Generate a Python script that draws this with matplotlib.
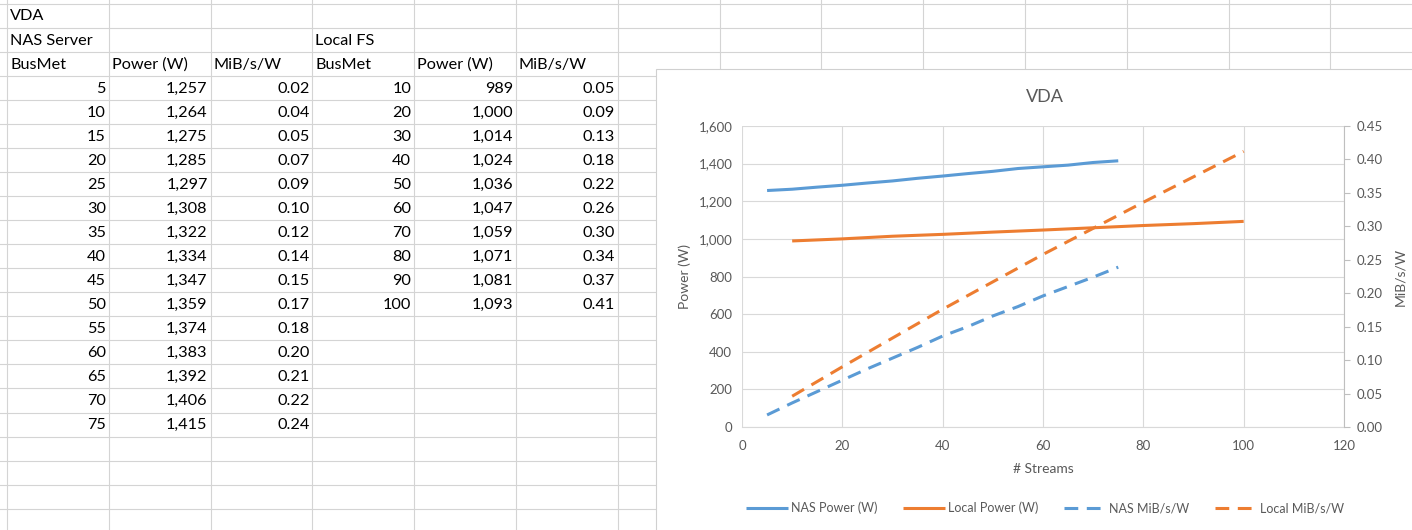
import matplotlib.pyplot as plt
from matplotlib.patches import Rectangle
from matplotlib.ticker import FuncFormatter, MultipleLocator

# table / chart data (efficiency, table shows them rounded)
nas_streams = [5, 10, 15, 20, 25, 30, 35, 40, 45, 50, 55, 60, 65, 70, 75]
nas_power = [1257, 1264, 1275, 1285, 1297, 1308, 1322, 1334, 1347, 1359, 1374, 1383, 1392, 1406, 1415]
nas_eff = [0.018, 0.036, 0.053, 0.070, 0.087, 0.103, 0.119, 0.136, 0.150, 0.166,
           0.180, 0.196, 0.210, 0.224, 0.239]
local_streams = [10, 20, 30, 40, 50, 60, 70, 80, 90, 100]
local_power = [989, 1000, 1014, 1024, 1036, 1047, 1059, 1071, 1081, 1093]
local_eff = [0.046, 0.090, 0.133, 0.176, 0.217, 0.258, 0.297, 0.336, 0.374, 0.412]

headers = ["BusMet", "Power (W)", "MiB/s/W"]

W, H = 1412, 530
BLUE = "#5B9BD5"
ORANGE = "#ED7D31"
GREY = "#595959"
plt.rcParams["font.family"] = ["Lato", "DejaVu Sans"]

fig = plt.figure(figsize=(W / 100, H / 100), dpi=100)
bg = fig.add_axes([0, 0, 1, 1])
bg.set_xlim(0, W)
bg.set_ylim(H, 0)
bg.axis("off")

# spreadsheet grid
col_x = [7 + 101.8 * i for i in range(15)]
row_y = [4 + 24.03 * i for i in range(23)]
for x in col_x:
    bg.plot([x, x], [0, H], color="#d4d4d4", lw=0.8, zorder=1)
for y in row_y:
    bg.plot([0, W], [y, y], color="#d4d4d4", lw=0.8, zorder=1)


def cell(r, c, s, right=False):
    yc = row_y[r] + 12.5
    if right:
        bg.text(col_x[c + 1] - 3, yc, s, ha="right", va="center",
                fontsize=11.7, zorder=2)
    else:
        bg.text(col_x[c] + 3, yc, s, ha="left", va="center",
                fontsize=11.7, zorder=2)


cell(0, 0, "VDA")
cell(1, 0, "NAS Server")
cell(1, 3, "Local FS")
for i, h in enumerate(headers):
    cell(2, i, h)
    cell(2, 3 + i, h)
for i in range(len(nas_streams)):
    cell(3 + i, 0, str(nas_streams[i]), True)
    cell(3 + i, 1, f"{nas_power[i]:,}", True)
    cell(3 + i, 2, f"{nas_eff[i]:.2f}", True)
for i in range(len(local_streams)):
    cell(3 + i, 3, str(local_streams[i]), True)
    cell(3 + i, 4, f"{local_power[i]:,}", True)
    cell(3 + i, 5, f"{local_eff[i]:.2f}", True)

# chart frame
bg.add_patch(Rectangle((656, 69), 800, 500, facecolor="white",
                       edgecolor="#d0d0d0", lw=0.8, zorder=3))

# chart
L, R, T, B = 742, 1344, 126, 427
ax = fig.add_axes([L / W, 1 - B / H, (R - L) / W, (B - T) / H])
ax.set_zorder(5)
ax.patch.set_alpha(0)
lw = 2.2
l1, = ax.plot(nas_streams, nas_power, color=BLUE, lw=lw, label="NAS Power (W)",
              solid_capstyle="butt")
l2, = ax.plot(local_streams, local_power, color=ORANGE, lw=lw, label="Local Power (W)",
              solid_capstyle="butt")
ax.set_xlim(0, 120)
ax.set_ylim(0, 1600)
ax.xaxis.set_major_locator(MultipleLocator(20))
ax.yaxis.set_major_locator(MultipleLocator(200))
ax.yaxis.set_major_formatter(FuncFormatter(lambda v, p: f"{int(v):,}"))
ax.grid(True, color="#d9d9d9", lw=0.8)
ax.set_axisbelow(True)
for s in ["top", "left", "right"]:
    ax.spines[s].set_visible(False)
ax.spines["bottom"].set_color("#d9d9d9")
ax.tick_params(axis="y", length=0, labelsize=9.5, labelcolor=GREY, pad=7)
ax.tick_params(axis="x", length=0, labelsize=9.5, labelcolor=GREY, pad=9)
ax.set_xlabel("# Streams", fontsize=10, color=GREY, labelpad=8)
ax.set_ylabel("Power (W)", fontsize=10, color=GREY, labelpad=5)
ax.set_title("VDA", fontsize=13, color=GREY, pad=17, x=0.503)

ax2 = ax.twinx()
l3, = ax2.plot(nas_streams, nas_eff, color=BLUE, lw=lw, dashes=(4.5, 2.8),
               label="NAS MiB/s/W")
l4, = ax2.plot(local_streams, local_eff, color=ORANGE, lw=lw, dashes=(4.5, 2.8),
               label="Local MiB/s/W")
ax2.set_ylim(0, 0.45)
ax2.yaxis.set_major_locator(MultipleLocator(0.05))
ax2.yaxis.set_major_formatter(FuncFormatter(lambda v, p: f"{v:.2f}"))
for s in ["top", "left", "bottom"]:
    ax2.spines[s].set_visible(False)
ax2.spines["right"].set_color("#bfbfbf")
ax2.tick_params(axis="y", length=4, color="#bfbfbf", labelsize=9.5,
                labelcolor=GREY, pad=5)
ax2.set_ylabel("MiB/s/W", fontsize=10, color=GREY, labelpad=8)

fig.legend(handles=[l1, l2, l3, l4], loc="center", ncol=4, frameon=False,
           bbox_to_anchor=(1045 / W, 1 - 508 / H), fontsize=9,
           labelcolor=GREY, handlelength=3.3, handletextpad=0.25,
           columnspacing=2.1)

fig.savefig("out.png", dpi=100)
